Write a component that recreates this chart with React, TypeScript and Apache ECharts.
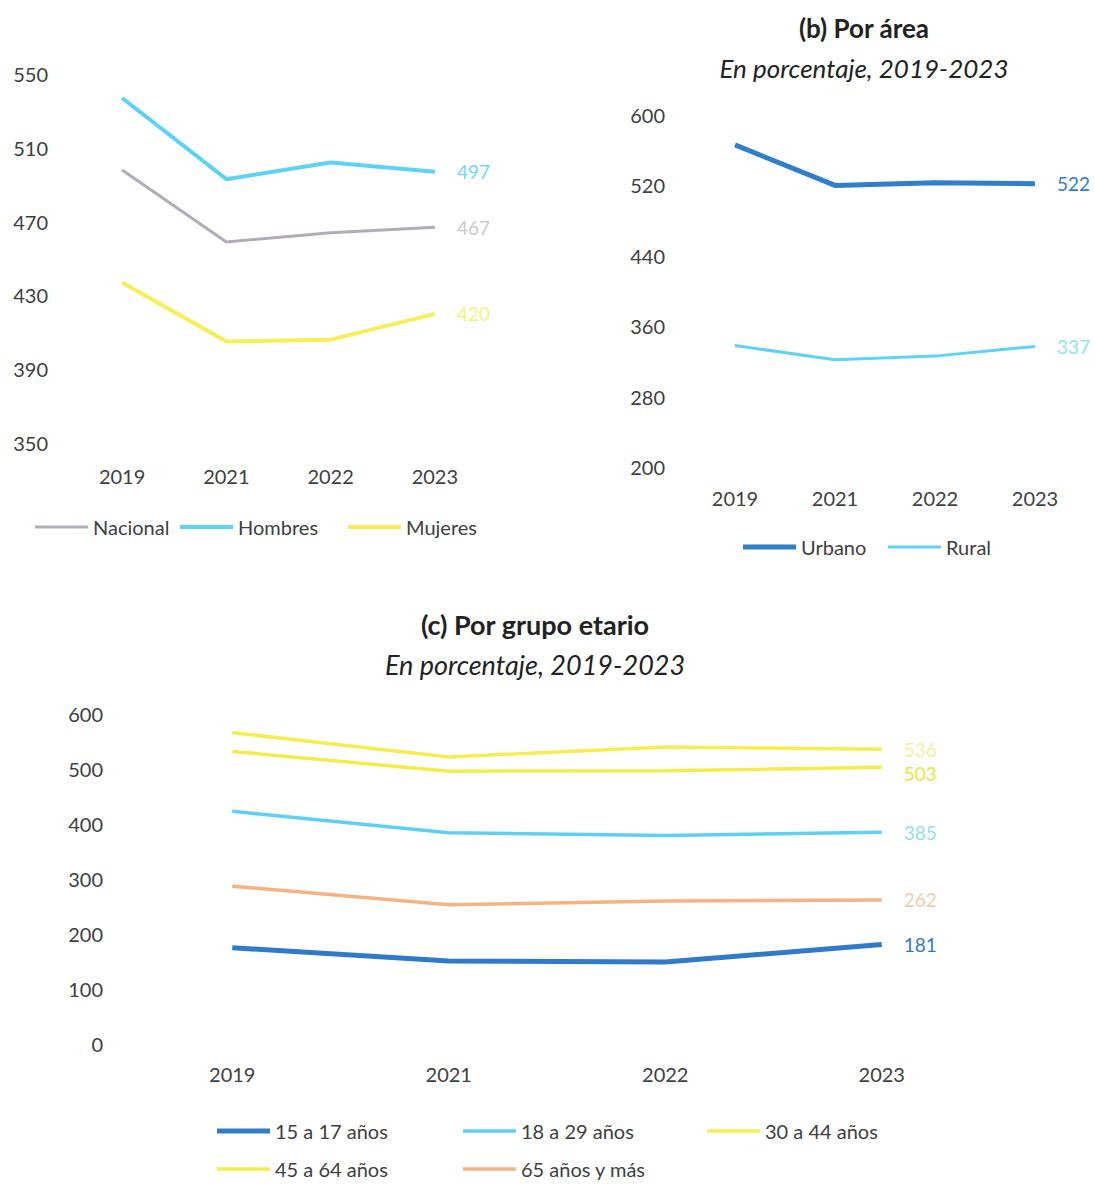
import React, { useEffect, useRef } from "react";
import * as echarts from "echarts";

const years = ["2019", "2021", "2022", "2023"];

// (a) Por sexo
const nacional = [498, 459, 464, 467];
const hombres = [537, 493, 502, 497];
const mujeres = [437, 405, 406, 420];
const ticksA = [350, 390, 430, 470, 510, 550];

// (b) Por área
const urbano = [566, 520, 523, 522];
const rural = [338, 322, 326, 337];
const ticksB = [200, 280, 360, 440, 520, 600];

// (c) Por grupo etario
const g15_17 = [175, 151, 149, 181];
const g18_29 = [423, 384, 379, 385];
const g30_44 = [566, 522, 540, 536];
const g45_64 = [532, 496, 497, 503];
const g65 = [287, 253, 260, 262];

const FONT = "Lato";
const TXT = "#404040";

export default function App() {
  const ref = useRef<HTMLDivElement>(null);
  useEffect(() => {
    document.body.style.margin = "0";
    const chart = echarts.init(ref.current!, null, { renderer: "svg" });

    const mkLine = (
      name: string,
      data: number[],
      idx: number,
      color: string,
      width: number,
      labelColor: string,
      labelOffset: number[] = [0, 0]
    ) => ({
      type: "line",
      name,
      data,
      xAxisIndex: idx,
      yAxisIndex: idx,
      symbol: "none",
      lineStyle: { color, width },
      itemStyle: { color },
      endLabel: {
        show: true,
        distance: 22,
        offset: labelOffset,
        color: labelColor,
        fontSize: 19,
        fontFamily: FONT,
        formatter: (p: any) => String(p.value),
      },
    });

    const xAx = (grid: number, margin: number) => ({
      type: "category",
      gridIndex: grid,
      data: years,
      boundaryGap: true,
      axisLine: { show: false },
      axisTick: { show: false },
      axisLabel: { color: TXT, fontSize: 20, fontFamily: FONT, margin },
    });

    const legendItem = (name: string, left: number, cy: number, h: number) => ({
      data: [name],
      left,
      top: cy - 11,
      icon: "rect",
      itemWidth: 53,
      itemHeight: h,
      itemGap: 5,
      padding: 0,
      textStyle: { color: TXT, fontSize: 20, fontFamily: FONT },
    });

    const titleText = (text: string, x: number, y: number, bold: boolean, size: number) => ({
      type: "text",
      x,
      y,
      style: {
        text,
        align: "center",
        verticalAlign: "middle",
        fontSize: size,
        fontFamily: FONT,
        fontWeight: bold ? "bold" : "normal",
        fontStyle: bold ? "normal" : "italic",
        fill: "#222222",
      },
    });

    chart.setOption({
      animation: false,
      backgroundColor: "#ffffff",
      graphic: [
        titleText("(b) Por área", 864, 28, true, 26),
        titleText("En porcentaje, 2019-2023", 864, 68, false, 26),
        titleText("(c) Por grupo etario", 535, 624, true, 27),
        titleText("En porcentaje, 2019-2023", 535, 664, false, 27),
      ],
      grid: [
        { left: 70, top: 74, width: 417, height: 369 },
        { left: 685, top: 115, width: 400, height: 352 },
        { left: 124, top: 714, width: 866, height: 330 },
      ],
      xAxis: [xAx(0, 23), xAx(1, 21), xAx(2, 20)],
      yAxis: [
        {
          type: "value",
          gridIndex: 0,
          min: 350,
          max: 550,
          splitLine: { show: false },
          axisLine: { show: false },
          axisTick: { show: false },
          axisLabel: { customValues: ticksA, color: TXT, fontSize: 20, fontFamily: FONT, margin: 22 },
        },
        {
          type: "value",
          gridIndex: 1,
          min: 200,
          max: 600,
          splitLine: { show: false },
          axisLine: { show: false },
          axisTick: { show: false },
          axisLabel: { customValues: ticksB, color: TXT, fontSize: 20, fontFamily: FONT, margin: 20 },
        },
        {
          type: "value",
          gridIndex: 2,
          min: 0,
          max: 600,
          interval: 100,
          splitLine: { show: false },
          axisLine: { show: false },
          axisTick: { show: false },
          axisLabel: { color: TXT, fontSize: 20, fontFamily: FONT, margin: 21 },
        },
      ],
      legend: [
        legendItem("Nacional", 35, 528, 3),
        legendItem("Hombres", 180, 528, 4),
        legendItem("Mujeres", 348, 528, 4),
        legendItem("Urbano", 743, 548, 5),
        legendItem("Rural", 888, 548, 3),
        legendItem("15 a 17 años", 217, 1132, 5),
        legendItem("18 a 29 años", 463, 1132, 3.5),
        legendItem("30 a 44 años", 707, 1132, 3.5),
        legendItem("45 a 64 años", 217, 1170, 3.5),
        legendItem("65 años y más", 463, 1170, 3.5),
      ],
      series: [
        mkLine("Nacional", nacional, 0, "#b3acb8", 3, "#cdc8d0"),
        mkLine("Hombres", hombres, 0, "#5cd2f4", 4, "#6fd9f6"),
        mkLine("Mujeres", mujeres, 0, "#f6ef55", 4, "#f7f07a"),
        mkLine("Urbano", urbano, 1, "#2f7fcb", 5, "#2f7fcb"),
        mkLine("Rural", rural, 1, "#5fd3f5", 3, "#8ee3f7"),
        mkLine("15 a 17 años", g15_17, 2, "#2f7bc9", 5, "#2f7bc9"),
        mkLine("18 a 29 años", g18_29, 2, "#5fd0f5", 3.5, "#8fe0f6"),
        mkLine("30 a 44 años", g30_44, 2, "#f5ee50", 3.5, "#f5f09c"),
        mkLine("45 a 64 años", g45_64, 2, "#f4ec48", 3.5, "#efe43a", [0, 6]),
        mkLine("65 años y más", g65, 2, "#f6b283", 3.5, "#f4cba8"),
      ],
    });
    return () => chart.dispose();
  }, []);
  return <div ref={ref} style={{ width: 1095, height: 1184 }} />;
}
